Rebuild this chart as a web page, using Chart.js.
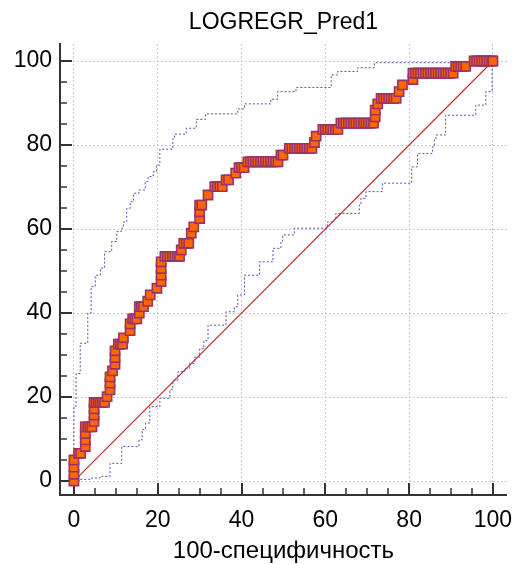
<!DOCTYPE html>
<html>
<head>
<meta charset="utf-8">
<script src="https://cdn.jsdelivr.net/npm/chart.js@4.4.0/dist/chart.umd.min.js"></script>
<style>
  html, body { margin: 0; padding: 0; background: #fff; }
</style>
</head>
<body>
<canvas id="roc" width="515" height="564"></canvas>
<script>
// Texts
const chartTitle = 'LOGREGR_Pred1';
const xTitle = '100-специфичность';

// Axis ticks (major labelled, minor only marks)
const tickValues = [0, 20, 40, 60, 80, 100];
const minorTickValues = [0, 5, 10, 15, 20, 25, 30, 35, 40, 45, 50, 55, 60, 65, 70, 75, 80, 85, 90, 95, 100];

// ROC curve points [100-specificity, sensitivity]
const rocPoints = [
  [0, 0], [0, 1.6], [0, 3.3], [0, 5.0],
  [1.1, 6.6], [1.6, 6.6],
  [2.7, 8.2], [2.7, 9.8], [2.7, 11.3], [2.7, 12.9],
  [3.3, 12.9], [3.8, 12.9], [4.3, 12.9],
  [4.8, 14.2], [4.8, 15.7], [4.8, 17.2], [4.8, 18.7],
  [5.3, 18.7], [5.8, 18.7], [6.3, 18.7], [6.8, 18.7], [7.3, 18.7],
  [7.9, 20.1],
  [8.6, 21.7], [8.6, 23.3], [8.6, 24.8],
  [9.2, 26.2],
  [9.8, 27.8], [9.8, 29.4], [9.8, 31.0],
  [10.6, 32.6], [11.1, 32.6], [11.6, 32.6],
  [11.8, 34.1],
  [13.4, 35.8], [13.4, 37.4],
  [14.0, 38.6], [14.5, 38.6], [15.0, 38.6],
  [15.6, 40.0], [15.6, 41.5], [16.1, 41.5], [16.6, 41.5],
  [17.6, 42.8],
  [18.2, 44.3],
  [19.8, 45.9],
  [20.8, 47.5], [20.8, 49.0], [20.8, 50.6], [20.8, 52.2],
  [21.7, 53.5], [22.3, 53.5], [22.9, 53.5], [23.5, 53.5], [24.1, 53.5], [24.7, 53.5], [25.2, 53.5],
  [25.6, 55.0],
  [26.2, 56.6], [26.8, 56.6], [27.4, 56.6],
  [28.0, 59.0],
  [28.6, 60.5],
  [30.0, 62.5], [30.0, 64.1], [30.0, 65.7], [30.5, 65.7],
  [32.0, 68.1],
  [33.6, 70.1], [34.2, 70.1], [34.8, 70.1], [35.4, 70.1],
  [36.3, 71.7], [36.9, 71.7],
  [38.6, 73.3],
  [39.4, 74.6], [40.0, 74.6], [40.6, 74.6],
  [41.5, 76.0], [42.1, 76.0], [42.7, 76.0], [43.3, 76.0], [43.9, 76.0], [44.5, 76.0], [45.1, 76.0],
  [45.7, 76.0], [46.3, 76.0], [46.9, 76.0], [47.5, 76.0], [48.1, 76.0], [48.7, 76.0],
  [49.4, 77.6], [49.9, 77.6],
  [51.4, 79.2], [52.0, 79.2], [52.6, 79.2], [53.2, 79.2], [53.8, 79.2], [54.4, 79.2], [55.0, 79.2],
  [55.6, 79.2], [56.2, 79.2], [56.8, 79.2],
  [57.4, 80.6],
  [57.8, 82.1],
  [59.4, 83.7], [60.0, 83.7], [60.6, 83.7], [61.2, 83.7], [61.8, 83.7], [62.4, 83.7], [63.0, 83.7],
  [63.7, 85.2], [64.3, 85.2], [64.9, 85.2], [65.5, 85.2], [66.1, 85.2], [66.7, 85.2], [67.3, 85.2],
  [67.9, 85.2], [68.5, 85.2], [69.1, 85.2], [69.7, 85.2], [70.3, 85.2], [70.9, 85.2], [71.5, 85.2],
  [71.9, 86.7], [71.9, 88.3],
  [72.5, 89.8],
  [73.3, 91.1], [73.9, 91.1], [74.5, 91.1], [75.1, 91.1], [75.7, 91.1], [76.3, 91.1], [76.9, 91.1],
  [77.6, 92.7],
  [78.4, 94.3],
  [80.9, 95.6], [80.9, 97.1], [81.5, 97.1], [82.1, 97.1], [82.7, 97.1], [83.3, 97.1], [83.9, 97.1],
  [84.5, 97.1], [85.1, 97.1], [85.7, 97.1], [86.3, 97.1], [86.9, 97.1], [87.5, 97.1], [88.1, 97.1],
  [88.7, 97.1], [89.3, 97.1], [89.9, 97.1], [90.5, 97.1],
  [91.1, 98.7], [91.7, 98.7], [92.3, 98.7], [92.9, 98.7], [93.5, 98.7],
  [95.5, 100], [96.1, 100], [96.7, 100], [97.3, 100], [97.9, 100], [98.5, 100], [99.1, 100], [99.7, 100], [100, 100]
];

// Confidence bounds (step tops)
const upperBand = [
  [0, 0], [0, 17.7], [0.5, 25.6], [1.5, 32.8], [3.3, 40.0], [4.1, 46.3], [5.1, 49.0], [6.3, 50.7],
  [7.3, 54.6], [9.0, 57.0], [10.2, 59.4], [11.3, 60.2], [11.8, 61.7], [12.6, 64.9], [13.4, 66.5],
  [14.2, 68.5], [15.5, 69.3], [17.0, 71.3], [17.7, 72.5], [18.9, 73.6], [19.7, 75.2], [20.5, 79.0],
  [23.6, 81.6], [24.0, 82.6], [26.8, 84.0], [29.2, 86.1], [31.4, 87.4], [39.1, 88.6], [40.7, 89.8],
  [47.0, 90.9], [48.6, 92.7], [53.0, 93.7], [61.4, 96.7], [62.9, 97.5], [67.7, 98.4], [71.7, 99.6],
  [100, 100]
];
const lowerBand = [
  [0, 0], [1.4, 0.4], [3.8, 0.7], [6.2, 1.1], [8.6, 4.2], [11.4, 8.2], [15.5, 9.8], [16.3, 12.3],
  [17.1, 13.8], [18.1, 17.7], [20.5, 19.7], [22.9, 21.7], [23.6, 24.0], [24.8, 26.0], [26.4, 26.8],
  [27.6, 28.0], [28.8, 29.5], [30.0, 31.5], [31.0, 33.5], [32.0, 37.1], [36.3, 40.3], [38.3, 41.5],
  [39.1, 44.3], [40.7, 49.0], [44.3, 52.2], [47.5, 55.4], [49.4, 57.0], [49.8, 58.6], [52.6, 60.2],
  [60.5, 61.7], [62.1, 62.1], [62.5, 63.7], [68.1, 65.7], [68.5, 67.3], [69.7, 68.9], [73.6, 70.9],
  [80.6, 74.8], [82.0, 78.0], [85.6, 79.6], [86.0, 81.2], [86.4, 82.4], [88.7, 87.1], [95.9, 89.5],
  [98.3, 92.7], [99.8, 100], [100, 100]
];

// Reference diagonal
const diagonal = [[0, 0], [100, 100]];

const toXY = pts => pts.map(p => ({ x: p[0], y: p[1] }));
const fontFamily = '"Liberation Sans", Arial, sans-serif';

// Inward tick marks on both axes
const tickMarks = {
  id: 'tickMarks',
  beforeDatasetsDraw(chart) {
    const { ctx, chartArea, scales: { x, y } } = chart;
    ctx.save();
    ctx.strokeStyle = '#333';
    minorTickValues.forEach(v => {
      const major = tickValues.includes(v);
      const len = major ? 12 : 7;
      ctx.lineWidth = major ? 2 : 1.5;
      const px = Math.round(x.getPixelForValue(v));
      ctx.beginPath();
      ctx.moveTo(px, chartArea.bottom);
      ctx.lineTo(px, chartArea.bottom - len);
      ctx.stroke();
      const py = Math.round(y.getPixelForValue(v));
      ctx.beginPath();
      ctx.moveTo(chartArea.left, py);
      ctx.lineTo(chartArea.left + len, py);
      ctx.stroke();
    });
    ctx.restore();
  }
};

// Title centred over the plot area
const topTitle = {
  id: 'topTitle',
  afterDraw(chart) {
    const { ctx, chartArea } = chart;
    ctx.save();
    ctx.fillStyle = '#000';
    ctx.font = '23px ' + fontFamily;
    ctx.textAlign = 'center';
    ctx.textBaseline = 'middle';
    ctx.fillText(chartTitle, (chartArea.left + chartArea.right) / 2, 23);
    ctx.restore();
  }
};

const setTicks = scale => { scale.ticks = tickValues.map(v => ({ value: v })); };

new Chart(document.getElementById('roc'), {
  type: 'scatter',
  data: {
    datasets: [
      {
        data: toXY(rocPoints),
        showLine: false,
        pointStyle: 'rect',
        pointRadius: 6.5,
        pointBackgroundColor: '#ff6600',
        pointBorderColor: '#993366',
        pointBorderWidth: 1.6
      },
      {
        data: toXY(diagonal),
        showLine: true,
        borderColor: '#c0282a',
        borderWidth: 1.1,
        pointRadius: 0
      },
      {
        data: toXY(upperBand),
        showLine: true,
        stepped: 'before',
        borderColor: 'rgba(50, 50, 170, 0.85)',
        borderWidth: 1,
        borderDash: [2, 2],
        pointRadius: 0
      },
      {
        data: toXY(lowerBand),
        showLine: true,
        stepped: 'before',
        borderColor: 'rgba(50, 50, 170, 0.85)',
        borderWidth: 1,
        borderDash: [2, 2],
        pointRadius: 0
      }
    ]
  },
  options: {
    responsive: false,
    devicePixelRatio: 1,
    animation: false,
    layout: { padding: { top: 44, right: 7, left: 0, bottom: 0 } },
    plugins: {
      legend: { display: false },
      tooltip: { enabled: false }
    },
    scales: {
      x: {
        type: 'linear',
        min: -3.33,
        max: 103.33,
        afterBuildTicks: setTicks,
        afterFit: s => { s.height = 69; s.paddingLeft = 0; s.paddingRight = 0; },
        grid: { color: '#c8c8c8', lineWidth: 1, drawTicks: false },
        border: { display: true, color: '#333', width: 2, dash: [2, 2] },
        ticks: { color: '#000', padding: 12, font: { size: 23, family: fontFamily }, callback: v => String(v) },
        title: { display: true, text: xTitle, color: '#000', font: { size: 24, family: fontFamily }, padding: { top: 0, bottom: -2 } }
      },
      y: {
        type: 'linear',
        min: -3.33,
        max: 104.05,
        afterBuildTicks: setTicks,
        afterFit: s => { s.width = 60; s.paddingTop = 0; s.paddingBottom = 0; },
        grid: { color: '#c8c8c8', lineWidth: 1, drawTicks: false },
        border: { display: true, color: '#333', width: 2, dash: [2, 2] },
        ticks: { color: '#000', padding: 8, font: { size: 23, family: fontFamily }, callback: v => String(v) }
      }
    }
  },
  plugins: [tickMarks, topTitle]
});
</script>
</body>
</html>
